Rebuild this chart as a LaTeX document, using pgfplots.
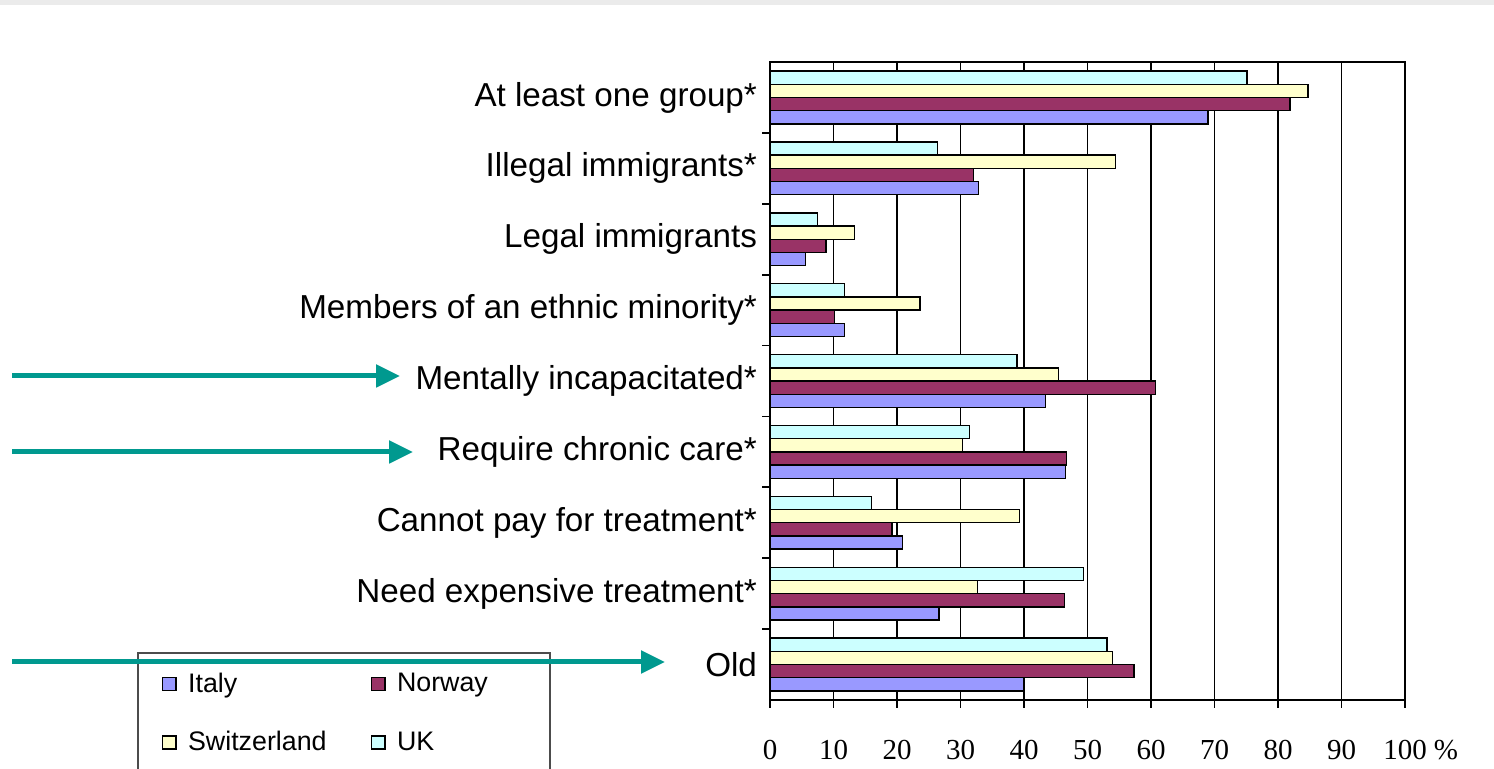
\documentclass[border=0pt]{standalone}
\usepackage{fontspec}
\setmainfont{Liberation Sans}
\newfontfamily\serifnum{Liberation Serif}
\usepackage{pgfplots}
\pgfplotsset{compat=1.18}
\usetikzlibrary{arrows.meta}
\definecolor{italy}{HTML}{9999FF}
\definecolor{norway}{HTML}{993366}
\definecolor{swiss}{HTML}{FFFFCC}
\definecolor{uk}{HTML}{CCFFFF}
\definecolor{arrowteal}{HTML}{00998F}
\begin{document}
\begin{tikzpicture}[x=1pt,y=1pt]
\fill[black!8] (0,382) rectangle (747,384.5);
\begin{axis}[
  at={(385pt,34.5pt)}, anchor=south west,
  scale only axis, width=317.5pt, height=319pt,
  xbar=0pt, bar width=6.6pt,
  xmin=0, xmax=100, ymin=-0.5, ymax=8.5,
  xtick={0,10,...,100},
  xticklabels={0,10,20,30,40,50,60,70,80,90,100\rlap{\ \%}},
  xmajorgrids, grid style={black, line width=0.9pt},
  axis line style={black, line width=0.9pt},
  tick style={black, line width=0.9pt},
  tick align=outside, xtick pos=bottom, ytick pos=left,
  major tick length=4pt,
  ytick={0.5,1.5,...,7.5}, yticklabels={},
  extra y ticks={0,...,8},
  extra y tick labels={Old, Need expensive treatment*, Cannot pay for treatment*, Require chronic care*, Mentally incapacitated*, Members of an ethnic minority*, Legal immigrants, Illegal immigrants*, At least one group*},
  extra y tick style={major tick length=0pt},
  yticklabel style={font=\fontsize{16.6}{18}\selectfont, xshift=-3pt},
  xticklabel style={font=\serifnum\fontsize{14.5}{16}\selectfont, yshift=-12.5pt},
  legend columns=2, legend cell align=left,
  legend style={at={(-0.997,0.0752)}, anchor=north west, draw=black!70, line width=0.8pt,
    font=\fontsize{13.4}{15}\selectfont, inner xsep=12pt, inner ysep=8pt, row sep=14pt,
    /tikz/every even column/.append style={column sep=20pt}},
  legend image code/.code={\draw[#1, line width=0.7pt] (0pt,-3.3pt) rectangle (6.8pt,3.3pt); \path (10.5pt,0pt);},
]
\addplot[fill=italy, draw=black, line width=0.7pt] coordinates {(40.0,0) (26.6,1) (20.9,2) (46.5,3) (43.4,4) (11.7,5) (5.6,6) (32.8,7) (69.0,8)};
\addplot[fill=norway, draw=black, line width=0.7pt] coordinates {(57.3,0) (46.4,1) (19.2,2) (46.7,3) (60.7,4) (10.2,5) (8.8,6) (32.0,7) (81.9,8)};
\addplot[fill=swiss, draw=black, line width=0.7pt] coordinates {(53.9,0) (32.7,1) (39.3,2) (30.3,3) (45.4,4) (23.6,5) (13.3,6) (54.4,7) (84.7,8)};
\addplot[fill=uk, draw=black, line width=0.7pt] coordinates {(53.1,0) (49.4,1) (16.0,2) (31.4,3) (38.9,4) (11.7,5) (7.5,6) (26.4,7) (75.1,8)};
\legend{Italy, Norway\hspace*{17pt}, Switzerland, UK}
\end{axis}
\draw[arrowteal, line width=2.5pt, -{Triangle[length=12pt,width=11pt]}] (6,196.5) -- (200,196.5);
\draw[arrowteal, line width=2.5pt, -{Triangle[length=12pt,width=11pt]}] (6,158.5) -- (206.5,158.5);
\draw[arrowteal, line width=2.5pt, -{Triangle[length=12pt,width=11pt]}] (6,53.5) -- (332.5,53.5);
\pgfresetboundingbox
\useasboundingbox (0,0) rectangle (747,384.5);
\end{tikzpicture}
\end{document}
